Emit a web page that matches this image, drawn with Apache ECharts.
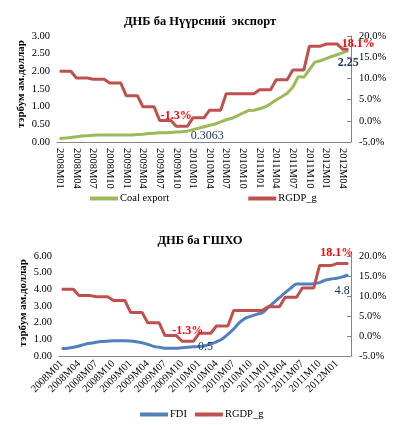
<!DOCTYPE html>
<html><head><meta charset="utf-8">
<script src="https://cdn.jsdelivr.net/npm/echarts@6/dist/echarts.min.js"></script>
<style>html,body{margin:0;padding:0;background:#fff}#c{width:394px;height:425px}</style>
</head><body><div id="c"></div>
<script>
const months = ['2008M01','2008M02','2008M03','2008M04','2008M05','2008M06','2008M07','2008M08','2008M09','2008M10','2008M11','2008M12',
'2009M01','2009M02','2009M03','2009M04','2009M05','2009M06','2009M07','2009M08','2009M09','2009M10','2009M11','2009M12',
'2010M01','2010M02','2010M03','2010M04','2010M05','2010M06','2010M07','2010M08','2010M09','2010M10','2010M11','2010M12',
'2011M01','2011M02','2011M03','2011M04','2011M05','2011M06','2011M07','2011M08','2011M09','2011M10','2011M11','2011M12',
'2012M01','2012M02','2012M03','2012M04','2012M05'];
const monthsFdi = months.slice(0, 51);

const coalExport = [0.10,0.11,0.13,0.15,0.17,0.18,0.19,0.20,0.20,0.20,0.20,0.20,0.20,0.20,0.21,0.22,0.24,0.25,0.26,0.26,0.27,0.28,0.29,0.3063,0.35,0.39,0.43,0.47,0.51,0.57,0.63,0.67,0.74,0.82,0.89,0.90,0.94,0.99,1.08,1.19,1.28,1.38,1.55,1.85,1.83,2.05,2.26,2.30,2.36,2.42,2.47,2.53,2.58];

const rgdpG = [11.7,11.7,11.7,10.1,10.1,10.1,9.8,9.8,9.8,8.9,8.9,8.9,5.9,5.9,5.9,3.3,3.3,3.3,0.1,0.1,0.1,-1.3,-1.3,-1.3,0.7,0.7,0.7,2.5,2.5,2.5,6.4,6.4,6.4,6.4,6.4,6.4,7.3,7.3,7.3,9.7,9.7,9.7,12.0,12.0,12.0,17.6,17.6,17.6,18.1,18.1,18.1,16.9,16.9];
const rgdpGFdi = rgdpG.slice(0, 51);

const fdi = [0.45,0.47,0.52,0.60,0.70,0.77,0.83,0.87,0.89,0.91,0.92,0.92,0.90,0.86,0.80,0.70,0.58,0.52,0.47,0.46,0.47,0.50,0.52,0.55,0.57,0.62,0.72,0.85,1.02,1.30,1.62,2.00,2.26,2.38,2.50,2.60,2.90,3.20,3.50,3.80,4.08,4.32,4.32,4.32,4.34,4.40,4.55,4.62,4.67,4.75,4.86];

const leftTicksTop = [0, 3, 0.5];
const leftTicksBottom = [0, 6, 1];
const rightTicks = [-5, 20, 5];

// annotation labels: [index, text]
const coalLabels = [[23, '0.3063'], [52, '2.25']];
const rgdpTopLabels = [[21, '-1.3%'], [50, '18.1%']];
const fdiLabels = [[23, '0.5'], [50, '4.8']];
const rgdpBottomLabels = [[22, '-1.3%'], [48, '18.1%']];

const SERIF = '"Liberation Serif","Times New Roman",serif';
const RED = '#C0504D', GREEN = '#9BBB59', BLUE = '#4F81BD', NAVY = '#1F3864';

function withLabels(arr, labels, styleFor) {
  const m = {};
  labels.forEach(([i, t]) => m[i] = t);
  return arr.map((v, i) => m[i] !== undefined ? {value: v, label: Object.assign({show: true, formatter: m[i]}, styleFor(i, m[i]))} : v);
}

const redLbl = {color: '#FF0000', fontFamily: SERIF, fontWeight: 'bold', fontSize: 12};
const navyLbl = {color: NAVY, fontFamily: SERIF, fontSize: 12};

const axisLbl = {fontFamily: SERIF, fontSize: 10.5, color: '#000'};

function xAxis(gi, data, rotate) {
  return {type: 'category', gridIndex: gi, data: data, boundaryGap: true,
    axisLine: {show: true, lineStyle: {color: '#868686', width: 1}},
    axisTick: {show: false},
    axisLabel: Object.assign({interval: 2, rotate: rotate, margin: 6}, axisLbl)};
}
function leftY(gi, t) {
  return {type: 'value', gridIndex: gi, min: t[0], max: t[1], interval: t[2], position: 'left',
    splitLine: {show: false}, axisLine: {show: false}, axisTick: {show: false},
    axisLabel: Object.assign({margin: 7, formatter: v => v.toFixed(2)}, axisLbl)};
}
function rightY(gi, t) {
  return {type: 'value', gridIndex: gi, min: t[0], max: t[1], interval: t[2], position: 'right',
    splitLine: {show: false},
    axisLine: {show: true, lineStyle: {color: '#868686'}},
    axisTick: {show: true, inside: true, length: 4, lineStyle: {color: '#868686'}},
    axisLabel: Object.assign({margin: 8, formatter: v => v.toFixed(1) + '%'}, axisLbl)};
}
function line(name, xi, yi, data, color, smooth) {
  return {name: name, type: 'line', xAxisIndex: xi, yAxisIndex: yi, data: data,
    smooth: smooth, symbol: 'circle', symbolSize: 1, showSymbol: true, showAllSymbol: true,
    itemStyle: {color: color}, lineStyle: {color: color, width: 3}, emphasis: {disabled: true}, animation: false};
}

const legendText = {fontFamily: SERIF, fontSize: 10.5, color: '#000', padding: [0,0,0,-3]};

const chart = echarts.init(document.getElementById('c'), null, {renderer: 'canvas'});
chart.setOption({
  animation: false,
  backgroundColor: '#fff',
  grid: [
    {left: 57, right: 43, top: 36, height: 106},
    {left: 59, right: 43, top: 256, height: 100}
  ],
  xAxis: [xAxis(0, months, -90), xAxis(1, monthsFdi, 45)],
  yAxis: [leftY(0, leftTicksTop), rightY(0, rightTicks), leftY(1, leftTicksBottom), rightY(1, rightTicks)],
  legend: [
    {left: 90, top: 193, padding: 0, itemGap: 79, itemWidth: 28, itemHeight: 4, icon: 'rect', data: ['Coal export', 'RGDP_g'],
     textStyle: legendText, selectedMode: false},
    {left: 140, top: 409, padding: 0, itemGap: 8, itemWidth: 28, itemHeight: 4, icon: 'rect', data: ['FDI', 'RGDP_g'],
     textStyle: legendText, selectedMode: false}
  ],
  graphic: [
    {type: 'text', x: 200, y: 22, style: {text: 'ДНБ ба Нүүрсний  экспорт', font: 'bold 12.5px ' + SERIF, fill: '#000', textAlign: 'center', textVerticalAlign: 'middle'}},
    {type: 'text', x: 200, y: 241, style: {text: 'ДНБ ба ГШХО', font: 'bold 12.5px ' + SERIF, fill: '#000', textAlign: 'center', textVerticalAlign: 'middle'}},
    {type: 'text', x: 21, y: 84, rotation: Math.PI / 2, style: {text: 'тэрбум ам.доллар', font: 'bold 11px ' + SERIF, fill: '#000', textAlign: 'center', textVerticalAlign: 'middle'}},
    {type: 'text', x: 23, y: 303, rotation: Math.PI / 2, style: {text: 'тэрбум ам.доллар', font: 'bold 11px ' + SERIF, fill: '#000', textAlign: 'center', textVerticalAlign: 'middle'}}
  ],
  series: [
    line('Coal export', 0, 0, withLabels(coalExport, coalLabels, (i) => i === 52
      ? Object.assign({position: 'bottom', distance: 6, fontWeight: 'bold'}, {color: NAVY, fontFamily: SERIF, fontSize: 12})
      : Object.assign({position: 'right', distance: 3, offset: [0, 5]}, navyLbl)), GREEN, false),
    line('RGDP_g', 0, 1, withLabels(rgdpG, rgdpTopLabels, (i) => i === 50
      ? Object.assign({position: 'right', distance: 4, offset: [0, 0]}, redLbl)
      : Object.assign({position: 'top', distance: 4}, redLbl)), RED, false),
    line('FDI', 1, 2, withLabels(fdi, fdiLabels, (i) => i === 50
      ? Object.assign({position: 'bottom', distance: 6, offset: [-6, 3]}, navyLbl)
      : Object.assign({position: 'right', distance: 4}, navyLbl)), BLUE, 0.3),
    line('RGDP_g', 1, 3, withLabels(rgdpGFdi, rgdpBottomLabels, () => Object.assign({position: 'top', distance: 4}, redLbl)), RED, false)
  ]
});
</script>
</body></html>
